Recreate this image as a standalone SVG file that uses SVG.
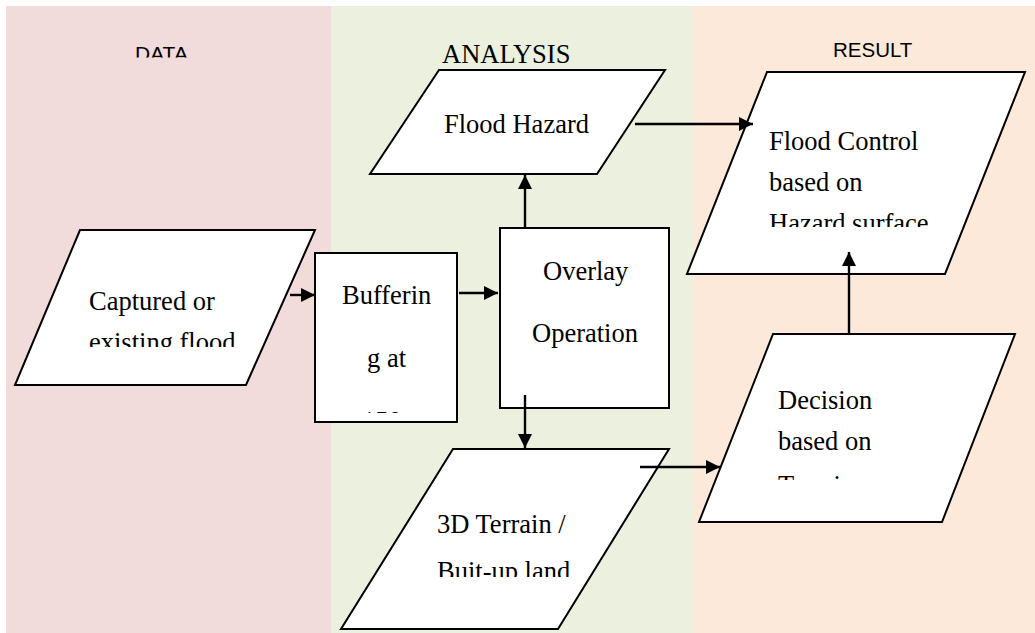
<svg xmlns="http://www.w3.org/2000/svg" width="1035" height="633" viewBox="0 0 1035 633">
<style>
.shape{fill:#fff;stroke:#000;stroke-width:2;stroke-linejoin:miter}
.t{font-family:"Liberation Serif","Times New Roman",serif;font-size:26.5px;fill:#000}
.h{font-family:"Liberation Sans",Arial,sans-serif;font-size:20.5px;fill:#000}
.c{stroke:#000;stroke-width:2.4;fill:none}
</style>
<defs>
<marker id="ah" markerUnits="userSpaceOnUse" markerWidth="16" markerHeight="16" viewBox="0 0 16 16" refX="14" refY="8" orient="auto">
<path d="M0,1 L14,8 L0,15 Z" fill="#000"/>
</marker>
<clipPath id="cData"><rect x="0" y="0" width="331" height="57.5"/></clipPath>
<clipPath id="cCap"><rect x="0" y="0" width="331" height="347"/></clipPath>
<clipPath id="cBuf"><rect x="300" y="0" width="200" height="413"/></clipPath>
<clipPath id="cFC"><rect x="694" y="0" width="341" height="227"/></clipPath>
<clipPath id="cDec"><rect x="694" y="0" width="341" height="480"/></clipPath>
<clipPath id="c3D"><rect x="331" y="0" width="363" height="577"/></clipPath>
</defs>
<g id="lanes">
<rect x="6" y="6" width="325" height="627" fill="#F2DCDB"/>
<rect x="331" y="6" width="363" height="627" fill="#EBF1DE"/>
<rect x="694" y="6" width="341" height="627" fill="#FDE9D9"/>
<text class="h" x="135" y="61" style="font-size:21px" clip-path="url(#cData)">DATA</text>
<text class="t" x="442" y="63">ANALYSIS</text>
<text class="h" x="833" y="57">RESULT</text>
</g>
<g id="captured">
<polygon class="shape" points="80,230 315,230 246,385 15,385"/>
<g clip-path="url(#cCap)">
<text class="t" x="89" y="310">Captured or</text>
<text class="t" x="89" y="351">existing flood</text>
</g>
</g>
<g id="buffering">
<rect class="shape" x="315" y="253" width="142" height="169"/>
<g clip-path="url(#cBuf)">
<text class="t" x="342" y="304">Bufferin</text>
<text class="t" x="367" y="367">g at</text>
<text class="t" x="362" y="430">150m</text>
</g>
</g>
<g id="overlay">
<rect class="shape" x="500" y="228" width="169" height="180"/>
<text class="t" x="543" y="280">Overlay</text>
<text class="t" x="532" y="342">Operation</text>
</g>
<g id="floodhazard">
<polygon class="shape" points="439,70 665,70 597,174 370,174"/>
<text class="t" x="444" y="133">Flood Hazard</text>
</g>
<g id="terrain">
<polygon class="shape" points="453,449 669,449 558,629 341,629"/>
<g clip-path="url(#c3D)">
<text class="t" x="437" y="533">3D Terrain /</text>
<text class="t" x="437" y="580">Buit-up land</text>
</g>
</g>
<g id="floodcontrol">
<polygon class="shape" points="767,72 1025,72 945,274 687,274"/>
<g clip-path="url(#cFC)">
<text class="t" x="769" y="150">Flood Control</text>
<text class="t" x="769" y="191">based on</text>
<text class="t" x="769" y="232">Hazard surface</text>
</g>
</g>
<g id="decision">
<polygon class="shape" points="773,334 1015,334 942,522 699,522"/>
<g clip-path="url(#cDec)">
<text class="t" x="778" y="409">Decision</text>
<text class="t" x="778" y="450">based on</text>
<text class="t" x="778" y="494">Terrain</text>
</g>
</g>
<g id="connectors">
<line class="c" x1="290" y1="295" x2="315" y2="295" marker-end="url(#ah)"/>
<line class="c" x1="459" y1="293" x2="498" y2="293" marker-end="url(#ah)"/>
<line class="c" x1="525" y1="228" x2="525" y2="175" marker-end="url(#ah)"/>
<line class="c" x1="525" y1="395" x2="525" y2="448" marker-end="url(#ah)"/>
<line class="c" x1="635" y1="124" x2="753" y2="124" marker-end="url(#ah)"/>
<line class="c" x1="640" y1="467" x2="720" y2="467" marker-end="url(#ah)"/>
<line class="c" x1="849" y1="333" x2="849" y2="252" marker-end="url(#ah)"/>
</g>
</svg>
